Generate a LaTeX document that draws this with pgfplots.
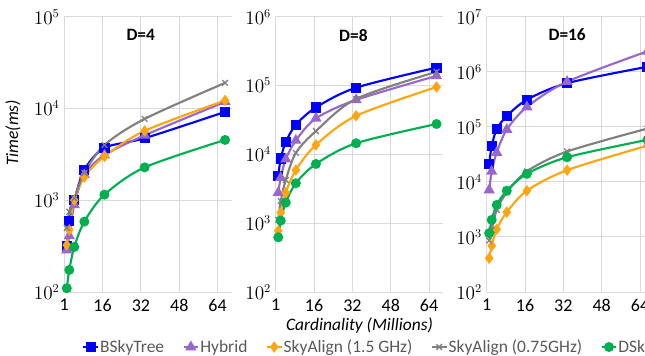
\documentclass[border=0pt]{standalone}
\usepackage{pgfplots}
\pgfplotsset{compat=1.18}
\usepackage{fontspec}
\setmainfont{Carlito}
\definecolor{cblue}{HTML}{0000FF}
\definecolor{cpurple}{HTML}{9966CC}
\definecolor{corange}{HTML}{FFA510}
\definecolor{cgray}{HTML}{808080}
\definecolor{cgreen}{HTML}{00B050}
\definecolor{gridgray}{HTML}{D9D9D9}
\definecolor{legtext}{HTML}{595959}
\tikzset{
  serB/.style={color=cblue, mark=square*, mark size=3pt},
  serH/.style={color=cpurple, mark=triangle*, mark size=3.3pt},
  serO/.style={color=corange, mark=diamond*, mark size=3pt},
  serG/.style={color=cgray, mark=x, mark size=3pt, mark options={line width=1pt}},
  serD/.style={color=cgreen, mark=*, mark size=2.9pt},
}
\begin{document}
\begin{tikzpicture}
% ---------------- D=4 ----------------
\begin{axis}[
  scale only axis, width=125.8pt, height=206.5pt,
  anchor=south west, at={(48.2pt,47.25pt)},
  ymode=log, xmin=0, xmax=70,
  xtick={0,16,32,48,64}, xticklabels={1,16,32,48,64},
  grid=major, major grid style={draw=gridgray, line width=0.75pt},
  axis line style={draw=none}, tick style={draw=none},
  tick label style={font=\fontsize{13.5}{15}\selectfont},
  xticklabel style={yshift=-2pt},
  clip=false,
  ymin=100, ymax=100000, ytick={100,1000,10000,100000},
  title={D=4}, title style={font=\fontsize{13}{15}\selectfont\bfseries, anchor=center, at={(0.456,0.904)}},
  ylabel={\itshape Time(ms)},
  ylabel style={font=\fontsize{13.1}{15}\selectfont, at={(-0.306,0.578)}, anchor=center},
  legend columns=5,
  legend image code/.code={\draw[mark repeat=2,mark phase=2,#1] plot coordinates {(0pt,0pt) (5.5pt,0pt) (11pt,0pt)};},
  legend style={at={(0.082,-0.1998)}, anchor=west, draw=none, fill=none,
    font=\fontsize{13.1}{15}\selectfont, text=legtext,
    nodes={inner xsep=0.75pt},
    /tikz/every even column/.append style={column sep=13pt}},
]
\addplot[serB, smooth, line width=1.6pt] coordinates {(1.05,318) (2.1,595) (4.19,1000) (8.39,2140) (16.78,3720) (33.55,4740) (67.11,9180)};
\addlegendentry{BSkyTree}
\addplot[serH, smooth, line width=1.6pt] coordinates {(1.05,287) (2.1,408) (4.19,890) (8.39,1890) (16.78,3100) (33.55,5100) (67.11,11800)};
\addlegendentry{Hybrid}
\addplot[serO, smooth, line width=1.6pt] coordinates {(1.05,325) (2.1,475) (4.19,1000) (8.39,1790) (16.78,3000) (33.55,5700) (67.11,12200)};
\addlegendentry{SkyAlign (1.5 GHz)}
\addplot[serG, smooth, line width=1.6pt] coordinates {(1.05,500) (2.1,750) (4.19,1050) (8.39,1980) (16.78,4000) (33.55,7700) (67.11,19000)};
\addlegendentry{SkyAlign (0.75GHz)}
\addplot[serD, smooth, line width=1.6pt] coordinates {(1.05,110) (2.1,174) (4.19,310) (8.39,585) (16.78,1150) (33.55,2280) (67.11,4540)};
\addlegendentry{DSkyline}
\end{axis}
% ---------------- D=8 ----------------
\begin{axis}[
  scale only axis, width=125.8pt, height=206.5pt,
  anchor=south west, at={(206.8pt,47.25pt)},
  ymode=log, xmin=0, xmax=70,
  xtick={0,16,32,48,64}, xticklabels={1,16,32,48,64},
  grid=major, major grid style={draw=gridgray, line width=0.75pt},
  axis line style={draw=none}, tick style={draw=none},
  tick label style={font=\fontsize{13.5}{15}\selectfont},
  xticklabel style={yshift=-2pt},
  clip=false,
  ymin=100, ymax=1000000, ytick={100,1000,10000,100000,1000000},
  title={D=8}, title style={font=\fontsize{13}{15}\selectfont\bfseries, anchor=center, at={(0.463,0.904)}},
  xlabel={\itshape Cardinality (Millions)},
  xlabel style={font=\fontsize{13.1}{15}\selectfont, at={(0.5,-0.1235)}, anchor=center},
]
\addplot[serB, smooth, line width=1.6pt] coordinates {(1.05,4900) (2.1,8700) (4.19,15100) (8.39,26800) (16.78,48000) (33.55,93000) (67.11,182000)};
\addplot[serH, smooth, line width=1.6pt] coordinates {(1.05,2770) (2.1,4580) (4.19,8500) (8.39,15900) (16.78,33300) (33.55,61800) (67.11,138000)};
\addplot[serO, smooth, line width=1.6pt] coordinates {(1.05,775) (2.1,1420) (4.19,2770) (8.39,5900) (16.78,13700) (33.55,36300) (67.11,95000)};
\addplot[serG, smooth, line width=1.6pt] coordinates {(1.05,1120) (2.1,2100) (4.19,4250) (8.39,10500) (16.78,21800) (33.55,64000) (67.11,158000)};
\addplot[serD, smooth, line width=1.6pt] coordinates {(1.05,624) (2.1,1090) (4.19,1990) (8.39,3800) (16.78,7250) (33.55,14500) (67.11,27600)};
\end{axis}
% ---------------- D=16 ----------------
\begin{axis}[
  scale only axis, width=125.8pt, height=206.5pt,
  anchor=south west, at={(365pt,47.25pt)},
  ymode=log, xmin=0, xmax=70,
  xtick={0,16,32,48,64}, xticklabels={1,16,32,48,64},
  grid=major, major grid style={draw=gridgray, line width=0.75pt},
  axis line style={draw=none}, tick style={draw=none},
  tick label style={font=\fontsize{13.5}{15}\selectfont},
  xticklabel style={yshift=-2pt},
  clip=false,
  ymin=100, ymax=10000000, ytick={100,1000,10000,100000,1000000,10000000},
  title={D=16}, title style={font=\fontsize{13}{15}\selectfont\bfseries, anchor=center, at={(0.48,0.904)}},
]
\addplot[serB, smooth, line width=1.6pt] coordinates {(1.05,21300) (2.1,44400) (4.19,91000) (8.39,156000) (16.78,310000) (33.55,620000) (67.11,1230000)};
\addplot[serH, smooth, line width=1.6pt] coordinates {(1.05,7100) (2.1,15500) (4.19,34000) (8.39,89000) (16.78,229000) (33.55,660000) (67.11,2350000)};
\addplot[serO, smooth, line width=1.6pt] coordinates {(1.05,410) (2.1,690) (4.19,1380) (8.39,2810) (16.78,6900) (33.55,16300) (67.11,45500)};
\addplot[serG, smooth, line width=1.6pt] coordinates {(1.05,860) (2.1,1340) (4.19,3100) (8.39,6400) (16.78,15500) (33.55,35600) (67.11,93000)};
\addplot[serD, smooth, line width=1.6pt] coordinates {(1.05,1170) (2.1,2040) (4.19,3810) (8.39,6900) (16.78,14000) (33.55,28000) (67.11,58000)};
\end{axis}
\pgfresetboundingbox
\useasboundingbox (0pt,0pt) rectangle (483.75pt,266.25pt);
\end{tikzpicture}
\end{document}
